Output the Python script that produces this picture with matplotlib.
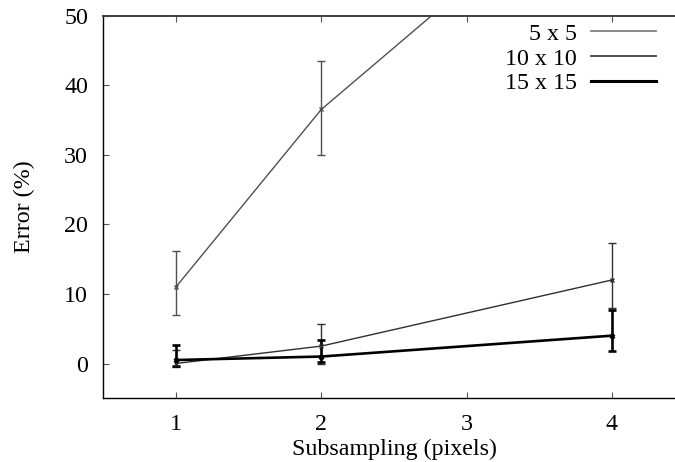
import numpy as np
import matplotlib
matplotlib.use("Agg")
import matplotlib.pyplot as plt
from matplotlib.lines import Line2D

plt.rcParams['font.family'] = ['Liberation Serif', 'DejaVu Serif']

# Data
subsampling = [1, 2, 4]

err_5 = [11.0, 36.5, 72.0]
low_5 = [7.0, 29.9, np.nan]
high_5 = [16.2, 43.5, np.nan]

err_10 = [0.0, 2.5, 12.0]
low_10 = [-0.5, 0.0, 8.0]
high_10 = [1.9, 5.7, 17.3]

err_15 = [0.5, 1.0, 4.0]
low_15 = [-0.3, 0.2, 1.8]
high_15 = [2.7, 3.4, 7.7]

labels = ['5 x 5', '10 x 10', '15 x 15']
colors = ['#505050', '#303030', '#000000']
leg_colors = ['#808080', '#404040', '#000000']
widths = [1.0, 1.0, 1.9]
fs = 17.3

fig = plt.figure(figsize=(6.75, 4.62), dpi=100)
# axes run past the right edge like the cropped original
ax = fig.add_axes([103.3 / 675, 1 - 398.3 / 462, (684.6 - 103.3) / 675, (398.3 - 15.5) / 462])

series = [(err_5, low_5, high_5), (err_10, low_10, high_10), (err_15, low_15, high_15)]
for (y, lo, hi), c, w in zip(series, colors, widths):
    y = np.array(y)
    yerr = [y - np.array(lo), np.array(hi) - y]
    ax.errorbar(subsampling, y, yerr=yerr, color=c, lw=w, elinewidth=w,
                capsize=3.2, capthick=w, marker='x', ms=3.5, mew=w)

ax.set_xlim(0.5, 4.5)
ax.set_ylim(-5, 50)
ax.set_xticks([1, 2, 3, 4])
ax.set_yticks([0, 10, 20, 30, 40, 50])
ax.tick_params(direction='in', length=4.5, width=0.8, labelsize=fs,
               top=True, right=False)
ax.tick_params(axis='x', colors='#555555', labelcolor='black', pad=11)
ax.tick_params(axis='y', colors='#555555', labelcolor='black', pad=11)
ax.spines['right'].set_visible(False)
ax.spines['top'].set_color('#404040')
ax.spines['top'].set_linewidth(1.4)
ax.spines['left'].set_linewidth(1.0)
ax.spines['bottom'].set_linewidth(1.0)

ax.set_xlabel('Subsampling (pixels)', fontsize=fs, labelpad=3)
ax.set_ylabel('Error (%)', fontsize=fs, labelpad=21)

handles = [Line2D([], [], color=c, lw=w + 0.3) for c, w in zip(leg_colors, widths)]
fig.legend(handles, labels, loc='upper right', bbox_to_anchor=(656 / 675, 1 - 23 / 462),
           frameon=False, markerfirst=False, fontsize=fs, handlelength=2.7,
           handletextpad=0.6, labelspacing=0.12, borderpad=0, borderaxespad=0)

fig.savefig('out.png', dpi=100)
